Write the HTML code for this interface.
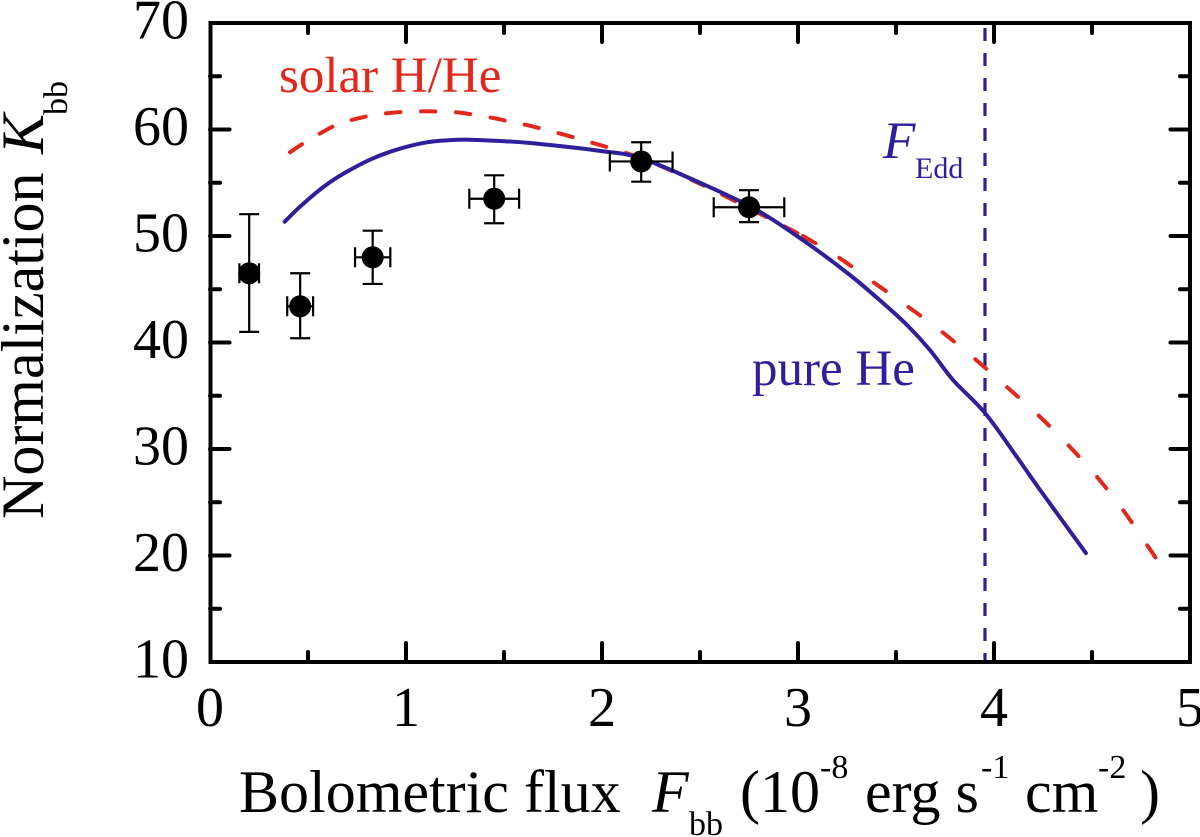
<!DOCTYPE html>
<html lang="en">
<head>
<meta charset="utf-8">
<title>Normalization vs bolometric flux</title>
<style>
html,body{margin:0;padding:0;background:#fff;width:1200px;height:837px;overflow:hidden}
svg{display:block}
text{font-family:"Liberation Serif","Times New Roman",serif}
</style>
</head>
<body>
<svg id="chart" width="1200" height="837" viewBox="0 0 1200 837" xmlns="http://www.w3.org/2000/svg">
  <g id="series"></g>
  <g id="axes"></g>
  <g id="points"></g>

  <text x="279" y="92" font-size="51" fill="#e2281c">solar H/He</text>
  <text x="752" y="385" font-size="51" fill="#2e1f9b">pure He</text>
  <g fill="#2e1f9b">
    <text x="883" y="158" font-size="53" font-style="italic">F</text>
    <text x="915" y="178" font-size="30">Edd</text>
  </g>

  <g fill="#000" font-size="60">
    <text x="239" y="812">Bolometric flux</text>
    <text x="652" y="812" font-style="italic">F</text>
    <text x="689" y="835" font-size="34">bb</text>
    <text x="740" y="812">(10</text>
    <text x="820" y="778" font-size="34">-8</text>
    <text x="865" y="812">erg s</text>
    <text x="981" y="778" font-size="34">-1</text>
    <text x="1025" y="812">cm</text>
    <text x="1098" y="778" font-size="34">-2</text>
    <text x="1140" y="812">)</text>
  </g>

  <g fill="#000" font-size="60" transform="translate(43 519)">
    <g transform="rotate(-90)">
      <text x="0" y="0">Normalization</text>
      <text x="365" y="0" font-style="italic">K</text>
      <text x="404" y="24" font-size="34">bb</text>
    </g>
  </g>
</svg>
<script>
const xTickValues = [0, 1, 2, 3, 4, 5];
const yTickValues = [10, 20, 30, 40, 50, 60, 70];
const xMinorTickValues = [0.5, 1.5, 2.5, 3.5, 4.5];
const yMinorTickValues = [15, 25, 35, 45, 55, 65];

const fluxObserved = [0.2, 0.46, 0.83, 1.45, 2.2, 2.75];
const normObserved = [46.5, 43.4, 48.0, 53.5, 57.0, 52.7];
const normErrUp = [52.05, 46.5, 50.5, 55.7, 58.8, 54.3];
const normErrLow = [41.0, 40.4, 45.5, 51.2, 55.1, 51.3];
const fluxErr = [0.05, 0.066, 0.09, 0.127, 0.16, 0.18];

const pureHeFlux = [0.381, 0.459, 0.544, 0.628, 0.714, 0.832, 0.969, 1.107, 1.224, 1.327, 1.48, 1.648, 1.99, 2.2, 2.5, 2.79, 3.046, 3.265, 3.434, 3.556, 3.673, 3.791, 3.954, 4.117, 4.235, 4.469];
const pureHeNorm = [51.34, 52.75, 54.1, 55.25, 56.2, 57.3, 58.2, 58.8, 59.0, 59.04, 58.92, 58.7, 57.99, 57.3, 55.0, 52.44, 49.34, 46.34, 43.7, 41.64, 39.3, 36.48, 33.38, 29.25, 26.15, 20.23];

const solarFluxUpper = [0.408, 0.485, 0.587, 0.663, 0.757, 0.833, 0.932, 1.012, 1.106, 1.187, 1.279, 1.361, 1.454, 1.534, 1.633, 1.709, 1.884, 2.2, 2.5, 2.75, 3.026];
const solarNormUpper = [57.86, 58.8, 59.89, 60.58, 61.05, 61.36, 61.58, 61.67, 61.71, 61.67, 61.58, 61.33, 61.05, 60.73, 60.35, 59.98, 59.11, 57.3, 54.9, 52.6, 50.0];
const solarFluxLower = [3.026, 3.204, 3.383, 3.556, 3.735, 3.903, 4.066, 4.23, 4.378, 4.526, 4.658, 4.781, 4.832];
const solarNormLower = [50.0, 48.03, 45.68, 43.43, 40.99, 38.45, 35.82, 33.1, 30.38, 27.37, 24.27, 20.99, 19.58];

const eddingtonFlux = 3.954;

const NS = 'http://www.w3.org/2000/svg';
const plotLeft = 210, plotRight = 1190, plotTop = 23, plotBottom = 662;
const xMin = 0, xMax = 5, yMin = 10, yMax = 70;
function xScale(v) { return plotLeft + (v - xMin) / (xMax - xMin) * (plotRight - plotLeft); }
function yScale(v) { return plotBottom - (v - yMin) / (yMax - yMin) * (plotBottom - plotTop); }

function make(parent, tag, attrs) {
  const el = document.createElementNS(NS, tag);
  for (const k in attrs) el.setAttribute(k, attrs[k]);
  parent.appendChild(el);
  return el;
}

function smoothPath(xs, ys) {
  const p = xs.map((x, i) => [xScale(x), yScale(ys[i])]);
  let d = 'M' + p[0][0].toFixed(1) + ' ' + p[0][1].toFixed(1);
  for (let i = 0; i < p.length - 1; i++) {
    const a = p[Math.max(i - 1, 0)], b = p[i], c = p[i + 1], e = p[Math.min(i + 2, p.length - 1)];
    const c1x = b[0] + (c[0] - a[0]) / 6, c1y = b[1] + (c[1] - a[1]) / 6;
    const c2x = c[0] - (e[0] - b[0]) / 6, c2y = c[1] - (e[1] - b[1]) / 6;
    d += 'C' + c1x.toFixed(1) + ' ' + c1y.toFixed(1) + ' ' + c2x.toFixed(1) + ' ' + c2y.toFixed(1) + ' ' + c[0].toFixed(1) + ' ' + c[1].toFixed(1);
  }
  return d;
}

const series = document.getElementById('series');
const axes = document.getElementById('axes');
const points = document.getElementById('points');

const eddLine = make(series, 'line', { x1: xScale(eddingtonFlux), x2: xScale(eddingtonFlux), y1: 28, y2: plotBottom, stroke: '#2e1f9b', 'stroke-width': 3.2, 'stroke-dasharray': '13 12' });



const solarUpper = make(series, 'path', { d: smoothPath(solarFluxUpper, solarNormUpper), fill: 'none', stroke: '#e2281c', 'stroke-width': 4, 'stroke-linecap': 'round', 'stroke-dasharray': '14.5 20.5' });



const solarLower = make(series, 'path', { d: smoothPath(solarFluxLower, solarNormLower), fill: 'none', stroke: '#e2281c', 'stroke-width': 4, 'stroke-linecap': 'round', 'stroke-dasharray': '14.5 27.9' });



const heLine = make(series, 'path', { d: smoothPath(pureHeFlux, pureHeNorm), fill: 'none', stroke: '#2e1f9b', 'stroke-width': 4, 'stroke-linecap': 'round', 'stroke-linejoin': 'round' });



const frame = make(axes, 'rect', { x: plotLeft + 0.5, y: plotTop, width: plotRight - plotLeft - 0.5, height: plotBottom - plotTop, fill: 'none', stroke: '#000', 'stroke-width': 4 });



function xTick(v, len, name) {
  const x = xScale(v);
  const b = make(axes, 'line', { x1: x, x2: x, y1: plotBottom, y2: plotBottom - len, stroke: '#000', 'stroke-width': 4, 'stroke-linecap': 'round' });
  
  
  const t = make(axes, 'line', { x1: x, x2: x, y1: plotTop, y2: plotTop + len, stroke: '#000', 'stroke-width': 4, 'stroke-linecap': 'round' });
  
  
}
function yTick(v, len, name) {
  const y = yScale(v);
  const l = make(axes, 'line', { x1: plotLeft, x2: plotLeft + len, y1: y, y2: y, stroke: '#000', 'stroke-width': 4, 'stroke-linecap': 'round' });
  
  
  const r = make(axes, 'line', { x1: plotRight, x2: plotRight - len, y1: y, y2: y, stroke: '#000', 'stroke-width': 4, 'stroke-linecap': 'round' });
  
  
}

xTickValues.forEach(function (v) {
  if (v > xMin && v < xMax) xTick(v, 19, 'x-major-tick');
  const label = make(axes, 'text', { x: xScale(v), y: 726, 'font-size': 56, 'text-anchor': 'middle', fill: '#000' });
  label.textContent = String(v);
  
  
});
xMinorTickValues.forEach(function (v) { xTick(v, 10, 'x-minor-tick'); });
yTickValues.forEach(function (v) {
  if (v > yMin && v < yMax) yTick(v, 19.5, 'y-major-tick');
  const label = make(axes, 'text', { x: 189, y: yScale(v) + 15.5, 'font-size': 56, 'text-anchor': 'end', fill: '#000' });
  label.textContent = String(v);
  
  
});
yMinorTickValues.forEach(function (v) { yTick(v, 10, 'y-minor-tick'); });

fluxObserved.forEach(function (f, i) {
  const g = make(points, 'g', { stroke: '#000', 'stroke-width': 2.2, fill: 'none' });
  
  
  const cx = xScale(f), cy = yScale(normObserved[i]);
  const yUp = yScale(normErrUp[i]), yLow = yScale(normErrLow[i]);
  const xL = xScale(f - fluxErr[i]), xR = xScale(f + fluxErr[i]);
  const capV = 10, capH = 10;
  const vertical = make(g, 'path', { d: 'M' + cx + ' ' + yUp + 'V' + yLow + 'M' + (cx - capV) + ' ' + yUp + 'H' + (cx + capV) + 'M' + (cx - capV) + ' ' + yLow + 'H' + (cx + capV) });
  
  
  const horizontal = make(g, 'path', { d: 'M' + xL + ' ' + cy + 'H' + xR + 'M' + xL + ' ' + (cy - capH) + 'V' + (cy + capH) + 'M' + xR + ' ' + (cy - capH) + 'V' + (cy + capH) });
  
  
  const dot = make(g, 'circle', { cx: cx, cy: cy, r: 11, fill: '#000', stroke: 'none' });
  
  
});
</script>
</body>
</html>
